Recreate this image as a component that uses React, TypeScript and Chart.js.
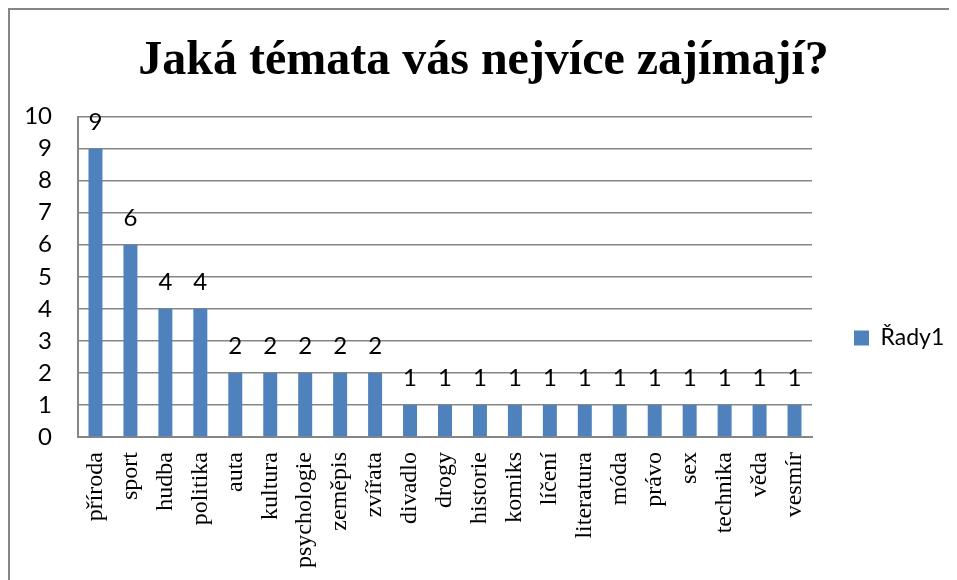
import React, { useEffect, useRef } from "react";
import { Chart, registerables } from "chart.js";

Chart.register(...registerables);

const TITLE = "Jaká témata vás nejvíce zajímají?";
const SERIES_NAME = "Řady1";
const categories = [
  "příroda", "sport", "hudba", "politika", "auta", "kultura", "psychologie",
  "zeměpis", "zvířata", "divadlo", "drogy", "historie", "komiks", "líčení",
  "literatura", "móda", "právo", "sex", "technika", "věda", "vesmír",
];
const values = [9, 6, 4, 4, 2, 2, 2, 2, 2, 1, 1, 1, 1, 1, 1, 1, 1, 1, 1, 1, 1];
const yTicks = [0, 1, 2, 3, 4, 5, 6, 7, 8, 9, 10];

const CANVAS_W = 947;
const CANVAS_H = 570;
const LEGEND_W = 145;
const LEGEND_SHIFT = 86;
const BAR_COLOR = "#4F81BD";
const GRID_COLOR = "#868686";

const legendFix = {
  id: "legendFix",
  beforeLayout(chart: any) {
    const lg = chart.legend;
    if (lg && !lg._patched) {
      const orig = lg.fit.bind(lg);
      lg.fit = function () {
        orig();
        this.width = LEGEND_W;
      };
      lg._patched = true;
    }
  },
  afterLayout(chart: any) {
    const lg = chart.legend;
    if (lg) {
      lg.top += LEGEND_SHIFT;
      lg.bottom = Math.max(lg.bottom, lg.top + 10);
    }
  },
};

const dataLabels = {
  id: "dataLabels",
  afterDatasetsDraw(chart: any) {
    const ctx = chart.ctx;
    ctx.save();
    ctx.font = "24px Lato";
    ctx.fillStyle = "#000";
    ctx.textAlign = "center";
    ctx.textBaseline = "alphabetic";
    chart.data.datasets.forEach((ds: any, di: number) => {
      const meta = chart.getDatasetMeta(di);
      meta.data.forEach((bar: any, i: number) => {
        ctx.fillText(String(ds.data[i]), bar.x, bar.y - 19);
      });
    });
    ctx.restore();
  },
};

export default function App() {
  const ref = useRef<HTMLCanvasElement | null>(null);

  useEffect(() => {
    if (!ref.current) return;
    const chart = new Chart(ref.current, {
      type: "bar",
      data: {
        labels: categories,
        datasets: [
          {
            label: SERIES_NAME,
            data: values,
            backgroundColor: BAR_COLOR,
            borderWidth: 0,
            barPercentage: 0.4,
            categoryPercentage: 1,
          },
        ],
      },
      options: {
        responsive: false,
        animation: false,
        layout: { padding: { left: 0, right: 0, top: 0, bottom: 0 } },
        plugins: {
          title: {
            display: true,
            text: TITLE,
            color: "#000",
            font: { family: "Liberation Serif", size: 48, weight: "bold" },
            padding: { top: 23, bottom: 26 },
          },
          legend: {
            position: "right",
            align: "center",
            labels: {
              boxWidth: 15,
              boxHeight: 15,
              padding: 42,
              color: "#000",
              font: { family: "Lato", size: 23 },
            },
          },
          tooltip: { enabled: false },
        },
        scales: {
          x: {
            grid: { display: false, drawTicks: false },
            border: { display: true, color: GRID_COLOR, width: 2 },
            ticks: {
              autoSkip: false,
              minRotation: 90,
              maxRotation: 90,
              padding: 15,
              color: "#000",
              font: { family: "Liberation Serif", size: 24 },
            },
            afterFit(scale: any) {
              scale.height = 143;
            },
          },
          y: {
            min: 0,
            max: 10,
            afterBuildTicks(scale: any) {
              scale.ticks = yTicks.map((v) => ({ value: v }));
            },
            grid: { color: GRID_COLOR, lineWidth: 1.5, drawTicks: false },
            border: { display: true, color: GRID_COLOR, width: 2 },
            ticks: {
              padding: 26,
              color: "#000",
              font: { family: "Lato", size: 24 },
            },
            afterFit(scale: any) {
              scale.width = 68;
            },
          },
        },
      },
      plugins: [legendFix, dataLabels],
    });
    return () => chart.destroy();
  }, []);

  return (
    <div
      style={{
        width: 949,
        height: 572,
        borderLeft: "2px solid #868686",
        borderTop: "2px solid #868686",
        boxSizing: "border-box",
        overflow: "hidden",
      }}
    >
      <canvas
        ref={ref}
        width={CANVAS_W}
        height={CANVAS_H}
        style={{ display: "block", width: CANVAS_W, height: CANVAS_H }}
      />
    </div>
  );
}
